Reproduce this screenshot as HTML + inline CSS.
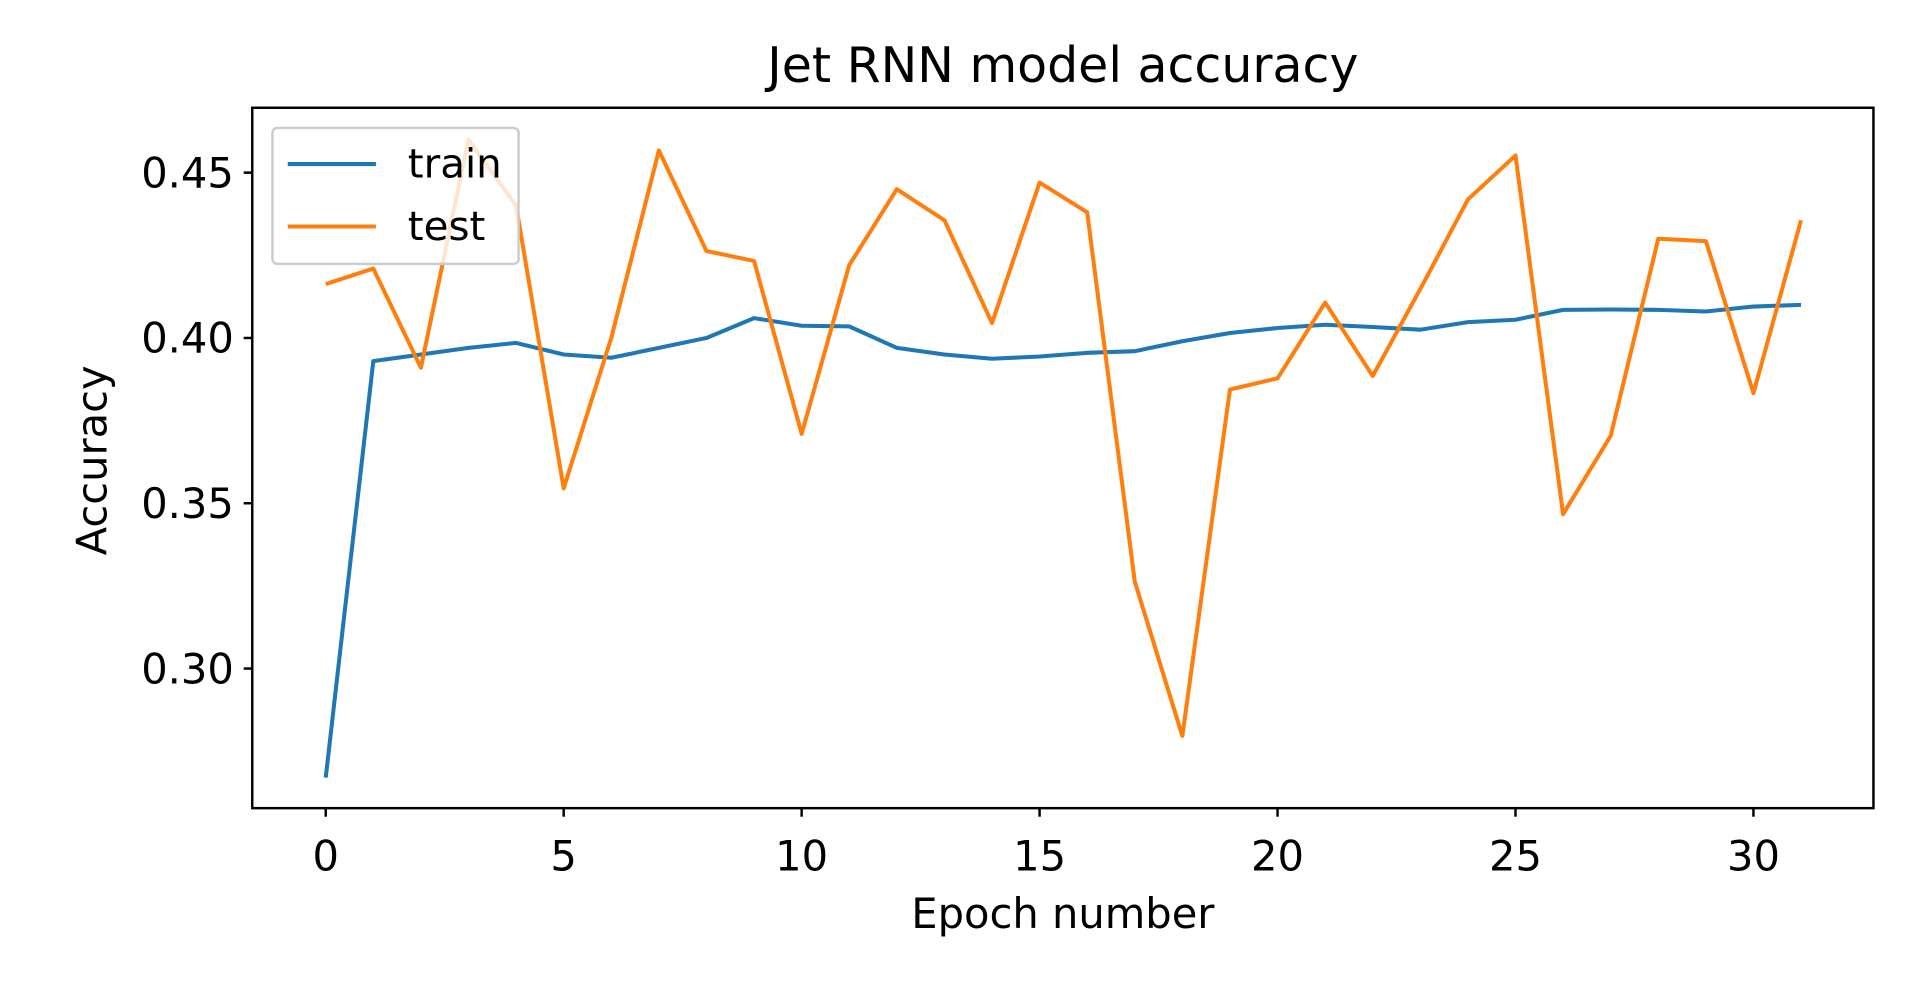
<!DOCTYPE html>
<html><head><meta charset="utf-8"><style>html,body{margin:0;padding:0;background:#fff;}svg{display:block;font-family:"DejaVu Sans","Liberation Sans",sans-serif;}</style></head>
<body>
<svg id="chart" width="1920" height="983" viewBox="0 0 1568 802.8" xmlns="http://www.w3.org/2000/svg">
<rect width="1568" height="802.8" fill="#fff"/>
<text x="868" y="67" font-size="40" text-anchor="middle">Jet RNN model accuracy</text>
<text x="868" y="758" font-size="34" text-anchor="middle">Epoch number</text>
<text transform="translate(87,376) rotate(-90)" font-size="34" text-anchor="middle">Accuracy</text>
<g id="ticks"></g>
<g id="series"></g>
<rect x="206" y="88" width="1324" height="572" fill="none" stroke="#000" stroke-width="2"/>
<g>
<rect x="222.5" y="104.5" width="201" height="111" rx="4" fill="#fff" fill-opacity="0.8" stroke="#ccc" stroke-width="2"/>
<line x1="235" y1="134" x2="307" y2="134" stroke="#1f77b4" stroke-width="3.3"/>
<text x="333" y="145" font-size="33">train</text>
<line x1="235" y1="185" x2="307" y2="185" stroke="#ff7f0e" stroke-width="3.3"/>
<text x="333" y="196" font-size="33">test</text>
</g>
</svg>
<script>
const epochs = Array.from({length:32},(_,i)=>i);
const trainAcc = [0.267,0.393,0.395,0.397,0.3985,0.395,0.394,0.397,0.400,0.406,0.4037,0.4035,0.397,0.395,0.3937,0.3944,0.3955,0.396,0.399,0.4015,0.403,0.404,0.4033,0.4025,0.4048,0.4055,0.4085,0.4086,0.4085,0.408,0.4095,0.410];
const testAcc = [0.4163,0.421,0.391,0.460,0.440,0.3545,0.400,0.4567,0.4263,0.4233,0.371,0.422,0.445,0.4356,0.4045,0.447,0.438,0.3263,0.2796,0.3844,0.3878,0.4107,0.3885,0.4148,0.4419,0.4552,0.3467,0.3704,0.430,0.4293,0.3833,0.4356];
const xTicks = [0,5,10,15,20,25,30];
const yTicks = [0.30,0.35,0.40,0.45];
const yTickLabels = ["0.30","0.35","0.40","0.45"];
const NS="http://www.w3.org/2000/svg";
const xs = e => 266 + (e-0)*(1432-266)/30;
const ys = v => 141 + (0.45-v)*(546-141)/0.15;
const tg=document.getElementById('ticks'), sg=document.getElementById('series');
xTicks.forEach(t=>{
  const l=document.createElementNS(NS,'line');
  
  
  l.setAttribute('x1',xs(t));l.setAttribute('x2',xs(t));l.setAttribute('y1',660);l.setAttribute('y2',667);l.setAttribute('stroke','#000');l.setAttribute('stroke-width','2');tg.appendChild(l);
  const tx=document.createElementNS(NS,'text');
  
  
  tx.setAttribute('x',xs(t));tx.setAttribute('y',711);tx.setAttribute('font-size','34');tx.setAttribute('text-anchor','middle');tx.textContent=t;tg.appendChild(tx);
});
yTicks.forEach((t,i)=>{
  const l=document.createElementNS(NS,'line');
  
  
  l.setAttribute('x1',199);l.setAttribute('x2',206);l.setAttribute('y1',ys(t));l.setAttribute('y2',ys(t));l.setAttribute('stroke','#000');l.setAttribute('stroke-width','2');tg.appendChild(l);
  const tx=document.createElementNS(NS,'text');
  
  
  tx.setAttribute('x',191);tx.setAttribute('y',ys(t)+12);tx.setAttribute('font-size','34');tx.setAttribute('text-anchor','end');tx.textContent=yTickLabels[i];tg.appendChild(tx);
});
[[trainAcc,'#1f77b4','train-line'],[testAcc,'#ff7f0e','test-line']].forEach(([d,c,n])=>{
  const p=document.createElementNS(NS,'polyline');
  
  
  p.setAttribute('points',d.map((v,i)=>xs(epochs[i])+','+ys(v)).join(' '));
  p.setAttribute('fill','none');p.setAttribute('stroke',c);p.setAttribute('stroke-width','3.3');p.setAttribute('stroke-linejoin','round');
  sg.appendChild(p);
});
</script>
</body></html>
